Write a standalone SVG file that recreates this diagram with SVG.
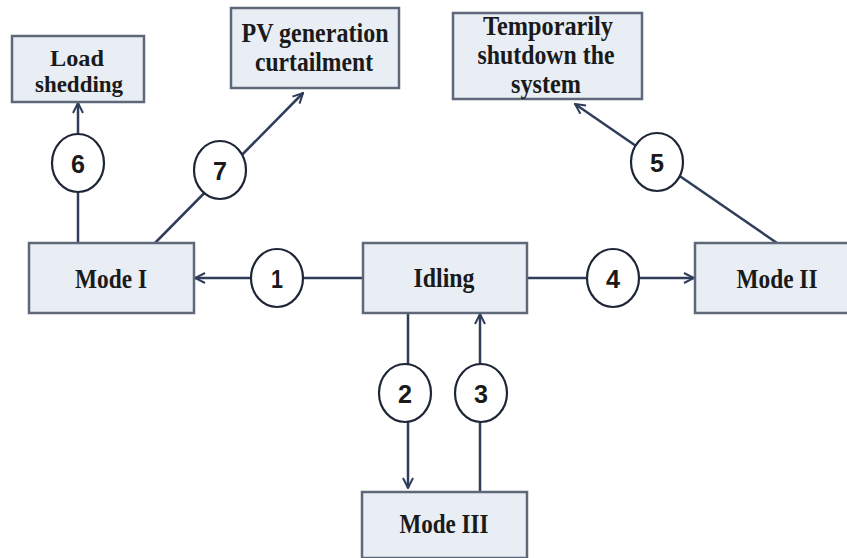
<svg xmlns="http://www.w3.org/2000/svg" width="847" height="558" viewBox="0 0 847 558">
  <style>
    .box { fill: #e9eef5; stroke: #5e6878; stroke-width: 2.5; }
    .lbl { font-family: "Liberation Serif", "Times New Roman", serif; font-weight: bold; font-size: 27px; fill: #1a1a1a; text-anchor: middle; }
    .sm { font-size: 24px; }
    .edge { fill: none; stroke: #2f3d5a; stroke-width: 2.5; }
    .tag { fill: #ffffff; stroke: #1d2536; stroke-width: 2.2; }
    .num { font-family: "Liberation Sans", Arial, sans-serif; font-weight: bold; font-size: 26px; fill: #1a1a1a; text-anchor: middle; }
  </style>
  <defs>
    <marker id="arrow" viewBox="0 0 12 12" refX="11" refY="6" markerWidth="12" markerHeight="12" markerUnits="userSpaceOnUse" orient="auto">
      <path d="M1,1 L11,6 L1,11" fill="none" stroke="#2f3d5a" stroke-width="2"/>
    </marker>
  </defs>
  <rect width="847" height="558" fill="#ffffff"/>

  <!-- connectors with numbered tags -->
  <g id="connectors">
    <path class="edge" d="M363,278 L195,278" marker-end="url(#arrow)"/>
    <path class="edge" d="M408,313 L408,488" marker-end="url(#arrow)"/>
    <path class="edge" d="M480,492 L480,314" marker-end="url(#arrow)"/>
    <path class="edge" d="M527,278 L694,278" marker-end="url(#arrow)"/>
    <path class="edge" d="M777,243 L575,104" marker-end="url(#arrow)"/>
    <path class="edge" d="M78,243 L78,103" marker-end="url(#arrow)"/>
    <path class="edge" d="M155,243 L303,93" marker-end="url(#arrow)"/>

    <g id="tag1"><ellipse class="tag" cx="277" cy="278" rx="26" ry="29"/><text class="num" x="277" y="288" textLength="12" lengthAdjust="spacingAndGlyphs">1</text></g>
    <g id="tag2"><ellipse class="tag" cx="405" cy="393" rx="26" ry="29"/><text class="num" x="405" y="403" textLength="14" lengthAdjust="spacingAndGlyphs">2</text></g>
    <g id="tag3"><ellipse class="tag" cx="481" cy="393" rx="26" ry="29"/><text class="num" x="481" y="403" textLength="14" lengthAdjust="spacingAndGlyphs">3</text></g>
    <g id="tag4"><ellipse class="tag" cx="613" cy="278" rx="26" ry="29"/><text class="num" x="613" y="288" textLength="14" lengthAdjust="spacingAndGlyphs">4</text></g>
    <g id="tag5"><ellipse class="tag" cx="657" cy="162" rx="26" ry="29"/><text class="num" x="657" y="172" textLength="14" lengthAdjust="spacingAndGlyphs">5</text></g>
    <g id="tag6"><ellipse class="tag" cx="78" cy="163" rx="26" ry="29"/><text class="num" x="78" y="173" textLength="14" lengthAdjust="spacingAndGlyphs">6</text></g>
    <g id="tag7"><ellipse class="tag" cx="220" cy="170" rx="26" ry="29"/><text class="num" x="220" y="180" textLength="14" lengthAdjust="spacingAndGlyphs">7</text></g>
  </g>

  <g id="mode1">
    <rect class="box" x="29" y="243" width="165" height="70"/>
    <text class="lbl" x="111" y="288" textLength="72" lengthAdjust="spacingAndGlyphs">Mode I</text>
  </g>
  <g id="idling">
    <rect class="box" x="363" y="243" width="164" height="70"/>
    <text class="lbl" x="444" y="287" textLength="61" lengthAdjust="spacingAndGlyphs">Idling</text>
  </g>
  <g id="mode2">
    <rect class="box" x="695" y="243" width="165" height="70"/>
    <text class="lbl" x="777" y="288" textLength="81" lengthAdjust="spacingAndGlyphs">Mode II</text>
  </g>
  <g id="mode3">
    <rect class="box" x="362" y="492" width="165" height="66"/>
    <text class="lbl" x="444" y="533" textLength="89" lengthAdjust="spacingAndGlyphs">Mode III</text>
  </g>
  <g id="load-shedding">
    <rect class="box" x="12" y="36" width="132" height="66"/>
    <text class="lbl sm" x="77" y="66" textLength="54" lengthAdjust="spacingAndGlyphs">Load</text>
    <text class="lbl sm" x="79" y="92" textLength="88" lengthAdjust="spacingAndGlyphs">shedding</text>
  </g>
  <g id="pv-curtailment">
    <rect class="box" x="231" y="8" width="168" height="80"/>
    <text class="lbl" x="315" y="42" textLength="147" lengthAdjust="spacingAndGlyphs">PV generation</text>
    <text class="lbl" x="314" y="71" textLength="118" lengthAdjust="spacingAndGlyphs">curtailment</text>
  </g>
  <g id="shutdown">
    <rect class="box" x="453" y="13" width="189" height="86"/>
    <text class="lbl" x="548" y="35" textLength="130" lengthAdjust="spacingAndGlyphs">Temporarily</text>
    <text class="lbl" x="546" y="64" textLength="137" lengthAdjust="spacingAndGlyphs">shutdown the</text>
    <text class="lbl" x="546" y="93" textLength="70" lengthAdjust="spacingAndGlyphs">system</text>
  </g>
</svg>
